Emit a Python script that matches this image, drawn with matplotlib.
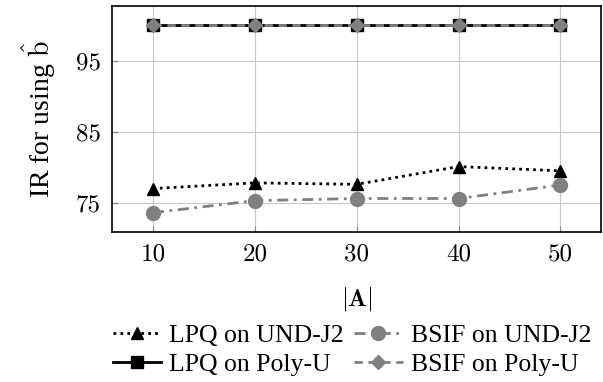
import matplotlib
matplotlib.use("Agg")
from matplotlib import pyplot as plt

plt.rcParams['mathtext.fontset'] = 'cm'
plt.rcParams['font.family'] = ['Liberation Serif', 'DejaVu Serif']

sizes = [10, 20, 30, 40, 50]
lpq_und = [77.0, 77.8, 77.6, 80.1, 79.5]
bsif_und = [73.6, 75.3, 75.6, 75.6, 77.5]
lpq_poly = [100, 100, 100, 100, 100]
bsif_poly = [100, 100, 100, 100, 100]

gray = '#808080'

fig = plt.figure(figsize=(6.03, 3.82), dpi=100)
ax = fig.add_axes([0.186, 0.393, 0.811, 0.591])

l1, = ax.plot(sizes, lpq_und, color='black', linestyle=(0, (1, 1.5)), linewidth=2,
              marker='^', markersize=9, label='LPQ on UND-J2')
l2, = ax.plot(sizes, bsif_und, color=gray, linestyle=(0, (4, 2, 1, 2)), linewidth=2,
              marker='o', markersize=10, label='BSIF on UND-J2')
l3, = ax.plot(sizes, lpq_poly, color='black', linestyle='-', linewidth=2,
              marker='s', markersize=9, label='LPQ on Poly-U')
l4, = ax.plot(sizes, bsif_poly, color=gray, linestyle=(0, (3, 2)), linewidth=2,
              marker='D', markersize=7, label='BSIF on Poly-U')

ax.set_xlim(6, 54)
ax.set_ylim(70.9, 102.7)
ax.set_xticks(sizes)
ax.set_yticks([75, 85, 95])
ax.grid(True, color='#c8c8c8', linewidth=0.8)
ax.set_axisbelow(True)
ax.tick_params(direction='in', length=4, labelsize=18, color='#888888', pad=8)
for lbl in ax.get_xticklabels() + ax.get_yticklabels():
    lbl.set_fontfamily('cmr10')
for s in ax.spines.values():
    s.set_linewidth(1.2)

ax.set_xlabel(r'$|\mathbf{A}|$', fontsize=18, labelpad=14)
ax.set_ylabel(r'IR for using $\hat{\mathrm{b}}$', fontsize=20, labelpad=13)

# column-first fill, so order handles to get rows as in the reference
ax.legend([l1, l3, l2, l4], [l.get_label() for l in (l1, l3, l2, l4)],
          loc='upper center', bbox_to_anchor=(0.49, -0.41), ncol=2, frameon=False,
          fontsize=18.5, handlelength=1.9, handletextpad=0.3, columnspacing=0.4,
          labelspacing=0.2, borderaxespad=0, borderpad=0)

fig.savefig('out.png', dpi=100)
